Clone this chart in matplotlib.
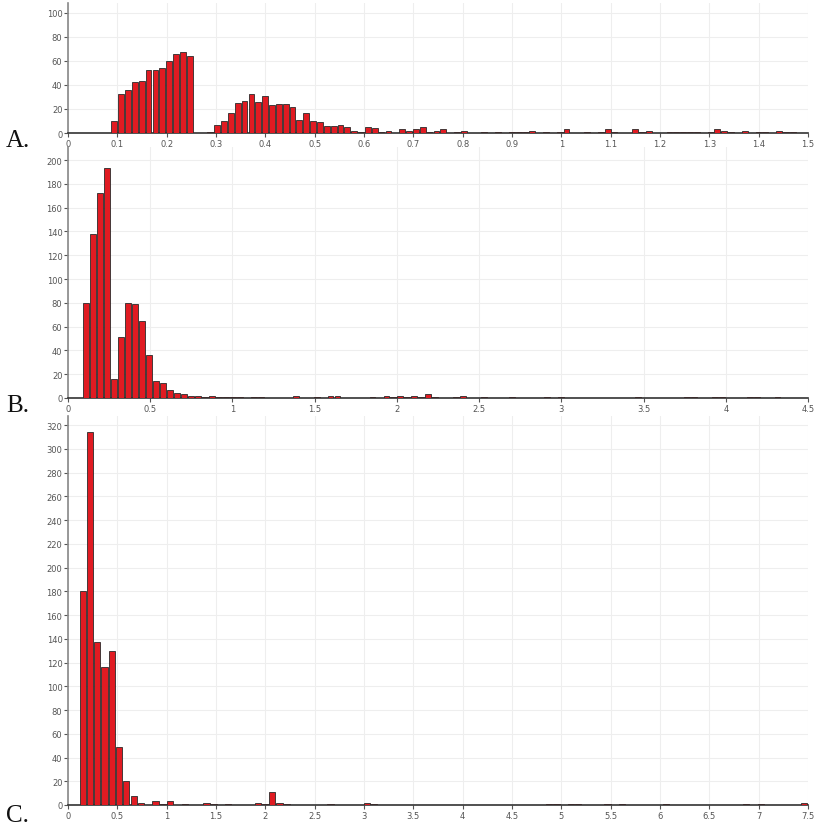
import matplotlib.pyplot as plt
import numpy as np

# histogram counts, 100 equal bins per panel
a_range = (0.087, 1.476)
a_counts = [10, 32, 36, 42, 43, 52, 52, 54, 60, 66,
            67, 64, 0, 0, 1, 7, 10, 17, 25, 27,
            32, 26, 31, 23, 24, 24, 22, 11, 17, 10,
            9, 6, 6, 7, 5, 2, 1, 5, 4, 1,
            2, 0, 3, 2, 3, 5, 1, 2, 3, 0,
            1, 2, 0, 0, 1, 0, 1, 0, 1, 1,
            1, 2, 0, 1, 0, 1, 3, 0, 0, 1,
            0, 1, 3, 1, 0, 0, 3, 1, 2, 0,
            0, 1, 1, 1, 1, 1, 0, 1, 3, 2,
            1, 0, 2, 0, 1, 1, 0, 2, 1, 1]

b_range = (0.089, 4.336)
b_counts = [80, 138, 172, 193, 16, 51, 80, 79, 65, 36,
            14, 13, 7, 4, 3, 2, 2, 1, 2, 1,
            1, 1, 1, 0, 1, 1, 0, 0, 0, 0,
            2, 0, 0, 1, 0, 2, 2, 0, 0, 0,
            0, 1, 0, 2, 1, 2, 1, 2, 1, 3,
            1, 0, 0, 1, 2, 0, 0, 1, 0, 0,
            0, 1, 0, 0, 0, 0, 1, 0, 1, 0,
            0, 0, 0, 0, 0, 0, 0, 0, 0, 1,
            0, 0, 0, 0, 0, 0, 1, 1, 0, 0,
            1, 1, 0, 0, 0, 1, 1, 0, 0, 1]

c_range = (0.111, 7.5)
c_counts = [180, 314, 137, 116, 130, 49, 20, 8, 2, 0,
            3, 1, 3, 0, 1, 0, 0, 2, 1, 0,
            1, 0, 0, 0, 2, 1, 11, 2, 1, 0,
            0, 0, 0, 0, 1, 0, 0, 0, 0, 2,
            1, 0, 0, 0, 0, 0, 0, 0, 0, 0,
            0, 0, 0, 0, 0, 0, 0, 0, 0, 0,
            0, 0, 0, 0, 1, 1, 0, 1, 1, 0,
            0, 0, 1, 0, 1, 0, 0, 0, 0, 0,
            1, 0, 0, 0, 0, 0, 0, 0, 0, 0,
            0, 1, 0, 1, 0, 0, 0, 0, 0, 2]

panels = [
    ("A.", a_range, a_counts, 1.5, 0.1, 108, 4, 134, 147),
    ("B.", b_range, b_counts, 4.5, 0.5, 211, 148, 399, 412),
    ("C.", c_range, c_counts, 7.5, 0.5, 327.6, 417, 806, 822),
]

W, H = 820, 828
fig = plt.figure(figsize=(W / 100, H / 100), dpi=100)

for label, rng, counts, xmax, xstep, ymax, top, bottom, base in panels:
    ax = fig.add_axes([68 / W, 1 - bottom / H, 740 / W, (bottom - top) / H])
    counts = np.array(counts)
    edges = np.linspace(rng[0], rng[1], len(counts) + 1)
    width = edges[1] - edges[0]
    centers = edges[:-1] + width / 2
    keep = counts > 0
    ax.bar(centers[keep], counts[keep], width=width * 0.84,
           color="#e01b22", edgecolor="#2a2a2a", linewidth=0.6, zorder=3)

    ax.set_xlim(0, xmax)
    ax.set_ylim(0, ymax)
    xt = np.arange(0, xmax + xstep / 2, xstep)
    ax.set_xticks(xt)
    ax.set_xticklabels(["%g" % round(v, 2) for v in xt])
    ax.set_yticks(np.arange(0, ymax, 20))
    ax.grid(True, color="#eeeeee", linewidth=0.8, zorder=0)
    ax.set_axisbelow(True)

    for s in ("top", "right"):
        ax.spines[s].set_visible(False)
    ax.spines["left"].set_color("#888888")
    ax.spines["left"].set_linewidth(1.2)
    ax.spines["bottom"].set_color("#333333")
    ax.spines["bottom"].set_linewidth(1.2)
    ax.tick_params(axis="both", labelsize=6, colors="#555555", length=3, width=0.8, pad=1)

    fig.text(6 / W, 1 - base / H, label, family="Liberation Serif",
             fontsize=18, va="baseline", ha="left", color="#111111")

fig.savefig("out.png", dpi=100)
